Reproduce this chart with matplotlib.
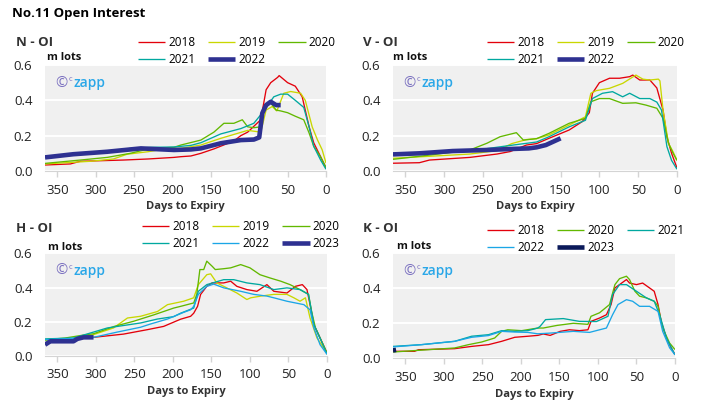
import matplotlib.pyplot as plt

plt.rcParams['font.family'] = ['Open Sans', 'DejaVu Sans']

# open interest, (days to expiry, m lots)
N_2018 = [(366, 0.034), (333, 0.040), (320, 0.055), (264, 0.062), (232, 0.068), (198, 0.077), (189, 0.081),
          (176, 0.085), (163, 0.100), (146, 0.125), (120, 0.170), (111, 0.200), (102, 0.220), (85, 0.290),
          (78, 0.460), (72, 0.500), (63, 0.530), (61, 0.540), (50, 0.500), (40, 0.480), (31, 0.420),
          (22, 0.250), (16, 0.160), (7, 0.080), (0, 0.017)]
N_2019 = [(366, 0.040), (307, 0.055), (277, 0.068), (259, 0.095), (232, 0.109), (206, 0.128), (189, 0.128),
          (163, 0.147), (137, 0.185), (102, 0.230), (85, 0.220), (78, 0.345), (70, 0.365), (64, 0.340),
          (55, 0.440), (46, 0.450), (33, 0.440), (27, 0.400), (18, 0.250), (11, 0.175), (5, 0.120), (0, 0.045)]
N_2020 = [(366, 0.043), (320, 0.062), (285, 0.077), (255, 0.100), (228, 0.128), (198, 0.134), (189, 0.147),
          (163, 0.175), (146, 0.220), (133, 0.270), (120, 0.270), (109, 0.290), (102, 0.250), (94, 0.245),
          (85, 0.250), (80, 0.360), (72, 0.385), (65, 0.345), (59, 0.340), (50, 0.330), (40, 0.310),
          (29, 0.290), (22, 0.215), (16, 0.140), (7, 0.080), (0, 0.020)]
N_2021 = [(366, 0.077), (300, 0.100), (255, 0.128), (228, 0.134), (198, 0.136), (176, 0.145), (163, 0.160),
          (137, 0.210), (111, 0.240), (94, 0.270), (80, 0.345), (68, 0.420), (59, 0.435), (50, 0.435),
          (40, 0.400), (29, 0.360), (22, 0.250), (16, 0.140), (7, 0.062), (0, 0.010)]
N_2022 = [(366, 0.077), (329, 0.095), (285, 0.109), (241, 0.128), (198, 0.119), (176, 0.122), (163, 0.128),
          (137, 0.157), (111, 0.175), (94, 0.178), (87, 0.190), (83, 0.327), (78, 0.373), (72, 0.392),
          (65, 0.373), (59, 0.373)]

V_2018 = [(366, 0.044), (332, 0.047), (319, 0.062), (267, 0.077), (232, 0.096), (215, 0.110), (194, 0.147),
          (181, 0.155), (165, 0.185), (139, 0.232), (122, 0.280), (113, 0.330), (109, 0.440), (100, 0.500),
          (87, 0.525), (74, 0.525), (61, 0.534), (57, 0.543), (48, 0.515), (35, 0.515), (26, 0.470),
          (18, 0.345), (13, 0.194), (7, 0.100), (0, 0.017)]
V_2019 = [(366, 0.072), (332, 0.080), (267, 0.096), (232, 0.115), (213, 0.155), (194, 0.178), (181, 0.183),
          (165, 0.204), (139, 0.260), (118, 0.307), (111, 0.440), (104, 0.455), (87, 0.468), (70, 0.496),
          (53, 0.543), (44, 0.520), (35, 0.515), (24, 0.520), (22, 0.510), (18, 0.345), (11, 0.157),
          (5, 0.108), (0, 0.060)]
V_2020 = [(366, 0.066), (319, 0.090), (267, 0.119), (245, 0.157), (228, 0.194), (207, 0.217), (198, 0.175),
          (181, 0.183), (165, 0.213), (139, 0.270), (118, 0.298), (111, 0.392), (100, 0.410), (87, 0.410),
          (70, 0.383), (53, 0.386), (40, 0.373), (26, 0.355), (18, 0.298), (11, 0.157), (5, 0.100), (0, 0.060)]
V_2021 = [(366, 0.090), (258, 0.119), (211, 0.147), (181, 0.164), (165, 0.194), (139, 0.250), (118, 0.287),
          (109, 0.410), (96, 0.440), (83, 0.449), (70, 0.420), (61, 0.440), (48, 0.410), (35, 0.410),
          (26, 0.390), (20, 0.345), (13, 0.138), (7, 0.060), (0, 0.010)]
V_2022 = [(366, 0.094), (332, 0.100), (289, 0.113), (245, 0.119), (211, 0.125), (191, 0.128), (181, 0.134),
          (169, 0.147), (150, 0.185)]

H_2018 = [(366, 0.074), (337, 0.094), (303, 0.109), (264, 0.128), (233, 0.154), (212, 0.173), (190, 0.215),
          (177, 0.232), (173, 0.250), (168, 0.290), (164, 0.360), (156, 0.407), (149, 0.427), (134, 0.427),
          (125, 0.437), (117, 0.407), (104, 0.388), (91, 0.378), (78, 0.417), (69, 0.378), (52, 0.368),
          (41, 0.407), (32, 0.417), (26, 0.388), (22, 0.300), (17, 0.183), (11, 0.125), (0, 0.018)]
H_2019 = [(366, 0.090), (330, 0.100), (303, 0.125), (277, 0.164), (259, 0.222), (242, 0.232), (220, 0.260),
          (207, 0.300), (186, 0.320), (173, 0.340), (167, 0.417), (156, 0.475), (151, 0.480), (143, 0.427),
          (134, 0.407), (117, 0.368), (104, 0.330), (99, 0.340), (86, 0.350), (69, 0.360), (52, 0.360),
          (43, 0.340), (35, 0.320), (28, 0.340), (22, 0.222), (13, 0.105), (0, 0.018)]
H_2020 = [(366, 0.095), (340, 0.105), (315, 0.123), (303, 0.130), (276, 0.173), (251, 0.203), (225, 0.240),
          (199, 0.280), (190, 0.290), (173, 0.310), (169, 0.360), (165, 0.505), (160, 0.505), (156, 0.554),
          (149, 0.524), (145, 0.505), (134, 0.510), (125, 0.515), (112, 0.534), (100, 0.515), (87, 0.475),
          (74, 0.456), (60, 0.437), (48, 0.417), (35, 0.388), (24, 0.360), (20, 0.260), (15, 0.164),
          (9, 0.105), (0, 0.018)]
H_2021 = [(366, 0.100), (329, 0.105), (285, 0.164), (242, 0.193), (220, 0.216), (199, 0.230), (190, 0.250),
          (173, 0.280), (167, 0.378), (156, 0.417), (134, 0.446), (121, 0.446), (104, 0.427), (87, 0.417),
          (69, 0.388), (52, 0.398), (35, 0.388), (24, 0.360), (17, 0.183), (9, 0.105), (0, 0.010)]
H_2022 = [(366, 0.095), (303, 0.109), (272, 0.140), (242, 0.168), (229, 0.187), (207, 0.216), (186, 0.255),
          (177, 0.270), (173, 0.290), (167, 0.360), (156, 0.407), (147, 0.420), (134, 0.398), (112, 0.378),
          (95, 0.360), (78, 0.350), (69, 0.340), (52, 0.320), (30, 0.300), (22, 0.270), (17, 0.164),
          (9, 0.066), (0, 0.010)]
H_2023 = [(366, 0.066), (359, 0.086), (329, 0.086), (324, 0.100), (316, 0.109), (303, 0.109)]

K_2018 = [(366, 0.040), (338, 0.040), (333, 0.049), (286, 0.055), (264, 0.068), (242, 0.078), (225, 0.097),
          (208, 0.120), (191, 0.126), (178, 0.131), (171, 0.139), (162, 0.131), (149, 0.154), (137, 0.163),
          (124, 0.158), (113, 0.163), (109, 0.211), (98, 0.230), (89, 0.249), (83, 0.307), (78, 0.402),
          (72, 0.421), (63, 0.450), (59, 0.430), (50, 0.421), (42, 0.430), (33, 0.402), (27, 0.383),
          (22, 0.307), (18, 0.211), (11, 0.115), (5, 0.060), (0, 0.020)]
K_2020 = [(366, 0.036), (286, 0.059), (268, 0.078), (251, 0.093), (234, 0.116), (225, 0.154), (217, 0.163),
          (199, 0.158), (178, 0.173), (171, 0.173), (153, 0.188), (132, 0.200), (113, 0.194), (109, 0.240),
          (98, 0.260), (85, 0.307), (78, 0.421), (72, 0.455), (63, 0.469), (59, 0.450), (52, 0.383),
          (46, 0.355), (37, 0.345), (27, 0.326), (22, 0.297), (16, 0.173), (7, 0.087), (0, 0.050)]
K_2021 = [(366, 0.068), (329, 0.078), (286, 0.097), (264, 0.126), (242, 0.135), (225, 0.158), (208, 0.154),
          (191, 0.158), (178, 0.173), (175, 0.183), (168, 0.221), (145, 0.227), (124, 0.211), (102, 0.210),
          (87, 0.240), (81, 0.364), (72, 0.421), (63, 0.421), (50, 0.383), (37, 0.345), (27, 0.326),
          (20, 0.249), (11, 0.115), (0, 0.020)]
K_2022 = [(366, 0.065), (329, 0.078), (286, 0.097), (264, 0.120), (242, 0.130), (225, 0.154), (208, 0.150),
          (191, 0.148), (178, 0.140), (162, 0.144), (132, 0.154), (111, 0.148), (89, 0.173), (81, 0.249),
          (74, 0.307), (63, 0.335), (55, 0.326), (46, 0.297), (33, 0.297), (22, 0.268), (16, 0.154),
          (7, 0.060), (0, 0.020)]
K_2023 = [(366, 0.045), (362, 0.048)]

X_TICKS = [350, 300, 250, 200, 150, 100, 50, 0]
Y_TICKS = [0.0, 0.2, 0.4, 0.6]

RED = '#e3000b'
YELLOW = '#c9d700'
GREEN = '#62b800'
TEAL = '#00a8a0'
NAVY = '#2e3191'
SKY = '#1ba6e6'
DARK = '#0b1a5a'
THIN = 0.95
THICK = 3.3


def draw_panel(fig, rect, name, series, name_px, unit_px, legend_px):
    W, H = 713.0, 408.0
    ax = fig.add_axes(rect)
    ax.set_facecolor('#f0f0f0')
    lines = []
    for year, pts, color, lw in series:
        days = [p[0] for p in pts]
        vals = [p[1] for p in pts]
        ln, = ax.plot(days, vals, color=color, lw=lw, label=year, solid_capstyle='butt')
        lines.append(ln)
    ax.set_xlim(366, 0)
    ax.set_ylim(0, 0.6)
    ax.set_xticks(X_TICKS)
    ax.set_yticks(Y_TICKS)
    ax.set_yticklabels(['%.1f' % y for y in Y_TICKS])
    ax.grid(axis='y', color='white', lw=1.4)
    ax.set_axisbelow(True)
    for s in ['top', 'right', 'left']:
        ax.spines[s].set_visible(False)
    ax.spines['bottom'].set_color('#d4d4d4')
    ax.tick_params(axis='x', length=4, width=1, color='#d4d4d4', labelsize=9.5, labelcolor='#222222', pad=5)
    ax.tick_params(axis='y', length=0, labelsize=9.5, labelcolor='#222222', pad=9)
    ax.set_xlabel('Days to Expiry', fontsize=8, fontweight='bold', color='#333333', labelpad=3.5)

    fig.text(name_px[0] / W, 1 - name_px[1] / H, name, fontsize=9.5, fontweight='bold',
             color='#333333', va='center')
    fig.text(unit_px[0] / W, 1 - unit_px[1] / H, 'm lots', fontsize=8, fontweight='bold',
             color='#111111', va='center')

    # watermark
    ax.annotate('©', (0.036, 0.83), xycoords='axes fraction', fontsize=10.5, color='#7a70c0', va='center')
    ax.annotate('c', (0.036, 0.83), xycoords='axes fraction', xytext=(10, 2.5), textcoords='offset points',
                fontsize=5.5, color='#7a70c0', va='center')
    ax.annotate('zapp', (0.036, 0.83), xycoords='axes fraction', xytext=(13, 0), textcoords='offset points',
                fontsize=10, fontweight='semibold', color='#2aa7e8', va='center')

    order = [0, 3, 1, 4, 2, 5][:len(lines)]
    ax.legend([lines[i] for i in order], [lines[i].get_label() for i in order],
              loc='upper left', bbox_to_anchor=(legend_px[0] / W, 1 - legend_px[1] / H),
              bbox_transform=fig.transFigure, ncol=3, frameon=False, fontsize=8.5,
              handlelength=2.3, handletextpad=0.25, columnspacing=1.1, labelspacing=0.37,
              borderpad=0, borderaxespad=0)
    return ax


fig = plt.figure(figsize=(7.13, 4.08), dpi=100)
fig.text(12 / 713, 1 - 14 / 408, 'No.11 Open Interest', fontsize=9.5, fontweight='bold', va='center')

draw_panel(fig, [45 / 713, 1 - 171 / 408, 281 / 713, 106 / 408], 'N - OI',
           [('2018', N_2018, RED, THIN), ('2019', N_2019, YELLOW, THIN), ('2020', N_2020, GREEN, THIN),
            ('2021', N_2021, TEAL, THIN), ('2022', N_2022, NAVY, THICK)],
           (16, 43), (47, 58), (138, 36))
draw_panel(fig, [393 / 713, 1 - 171 / 408, 284 / 713, 106 / 408], 'V - OI',
           [('2018', V_2018, RED, THIN), ('2019', V_2019, YELLOW, THIN), ('2020', V_2020, GREEN, THIN),
            ('2021', V_2021, TEAL, THIN), ('2022', V_2022, NAVY, THICK)],
           (363, 42), (393, 57), (487, 36))
draw_panel(fig, [45 / 713, 1 - 356 / 408, 282 / 713, 102.7 / 408], 'H - OI',
           [('2018', H_2018, RED, THIN), ('2019', H_2019, YELLOW, THIN), ('2020', H_2020, GREEN, THIN),
            ('2021', H_2021, TEAL, THIN), ('2022', H_2022, SKY, THIN), ('2023', H_2023, NAVY, THICK)],
           (16, 228), (48, 248), (142, 220))
draw_panel(fig, [393 / 713, 1 - 358.3 / 408, 282 / 713, 105 / 408], 'K - OI',
           [('2018', K_2018, RED, THIN), ('2020', K_2020, GREEN, THIN), ('2021', K_2021, TEAL, THIN),
            ('2022', K_2022, SKY, THIN), ('2023', K_2023, DARK, THICK)],
           (363, 228), (397, 247), (487, 224))

fig.savefig('out.png', dpi=100)
